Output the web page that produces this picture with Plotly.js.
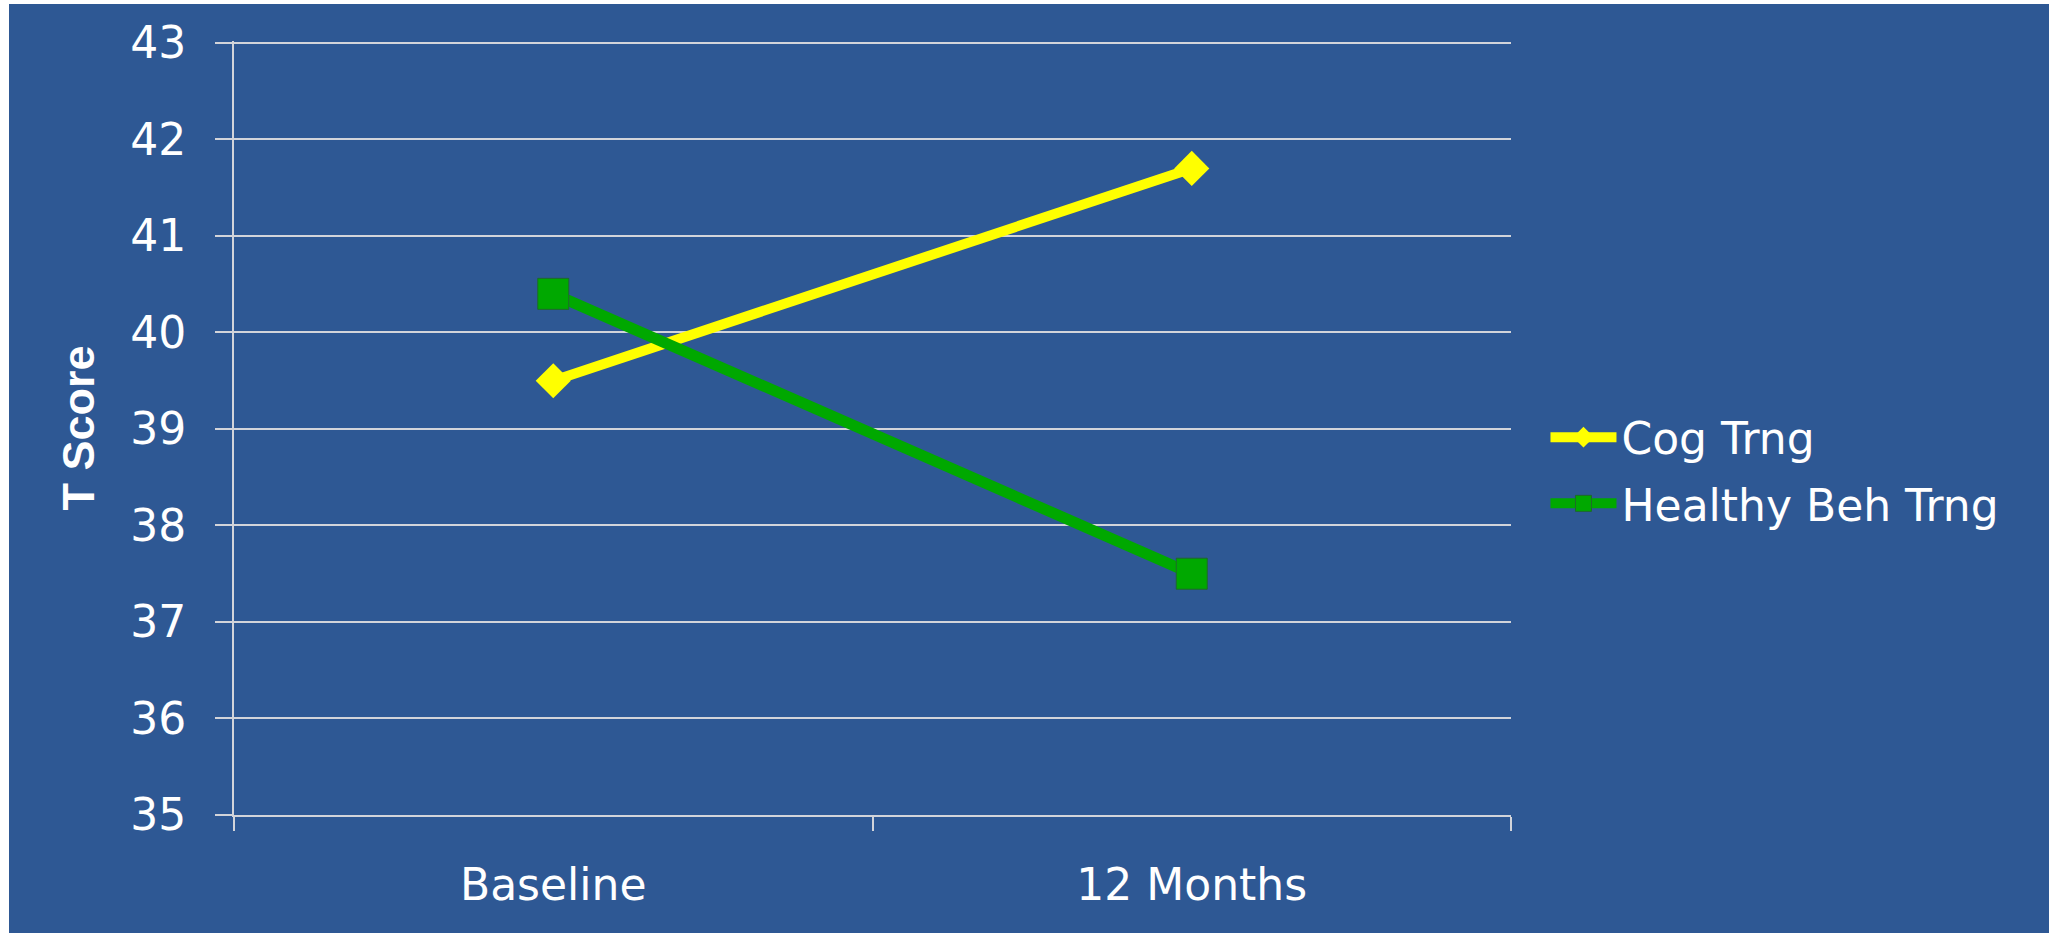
<!DOCTYPE html>
<html>
<head>
<meta charset="utf-8">
<script src="https://cdn.plot.ly/plotly-3.0.1.min.js"></script>
<style>
  html, body { margin: 0; padding: 0; background: #ffffff; overflow: hidden; }
  #chart { position: absolute; left: 9px; top: 4px; width: 2040px; height: 929px; }
</style>
</head>
<body>
<div id="chart"></div>
<script>
// Data
const categories = ["Baseline", "12 Months"];
const cogTrng = [39.5, 41.7];
const healthyBehTrng = [40.4, 37.5];
const seriesNames = ["Cog Trng", "Healthy Beh Trng"];
const yTickVals = [35, 36, 37, 38, 39, 40, 41, 42, 43];

const bg = "#2E5894";
const gridColor = "#D2D4DA";
const font = "DejaVu Sans, Arial, sans-serif";

const traces = [
  {
    x: categories, y: cogTrng, name: seriesNames[0],
    type: "scatter", mode: "lines+markers", legendgroup: "g1",
    line: { color: "#FFFF00", width: 10 },
    marker: { symbol: "diamond", size: 27, color: "#FFFF00", line: { width: 0 } }
  },
  {
    x: categories, y: healthyBehTrng, name: seriesNames[1],
    type: "scatter", mode: "lines+markers", legendgroup: "g2",
    line: { color: "#00A800", width: 11 },
    marker: { symbol: "square", size: 31, color: "#00A800", line: { color: "#1E6A2A", width: 1 } }
  }
];

const layout = {
  width: 2040, height: 929,
  paper_bgcolor: bg, plot_bgcolor: bg,
  margin: { l: 225, r: 538, t: 37, b: 118, pad: 0 },
  font: { family: font, size: 44, color: "#FFFFFF" },
  showlegend: true,
  legend: {
    x: 1.027, y: 0.445, xanchor: "left", yanchor: "middle",
    bgcolor: "rgba(0,0,0,0)", borderwidth: 0,
    font: { family: font, size: 44, color: "#FFFFFF" },
    itemwidth: 66,
    traceorder: "grouped",
    tracegroupgap: 6
  },
  xaxis: {
    type: "category",
    range: [-0.5, 1.5],
    showgrid: false, zeroline: false,
    showline: true, linecolor: gridColor, linewidth: 2,
    ticks: "outside", tickson: "boundaries", ticklen: 14, tickcolor: gridColor, tickwidth: 2,
    tickfont: { family: font, size: 44, color: "#FFFFFF" },
    ticklabelstandoff: 30
  },
  yaxis: {
    range: [35, 43.02],
    tickvals: yTickVals,
    showgrid: true, gridcolor: gridColor, gridwidth: 2,
    zeroline: false,
    showline: true, linecolor: gridColor, linewidth: 2,
    ticks: "outside", ticklen: 17, tickcolor: gridColor, tickwidth: 2,
    tickfont: { family: font, size: 44, color: "#FFFFFF" },
    ticklabelstandoff: 20,
    title: { text: "T Score", font: { family: "Liberation Sans, Arial, sans-serif", size: 45, color: "#FFFFFF", weight: 700 }, standoff: 21 }
  }
};

Plotly.newPlot("chart", traces, layout, { displayModeBar: false, staticPlot: true });
</script>
</body>
</html>
